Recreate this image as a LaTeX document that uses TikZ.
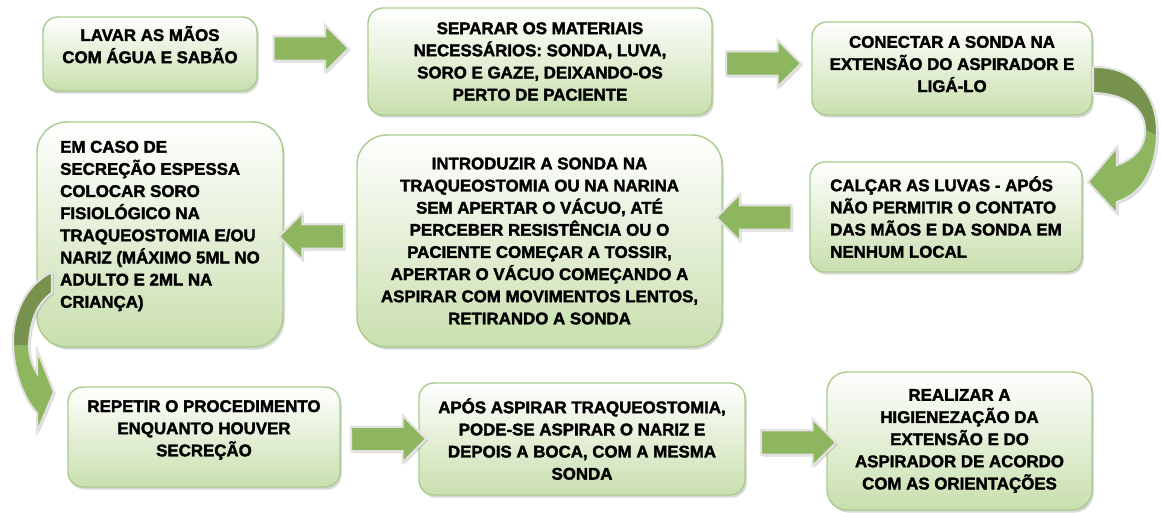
\documentclass[tikz,border=0pt]{standalone}
\usepackage{fontspec}
\setmainfont{Liberation Sans}[BoldFeatures={FakeBold=2}]
\usepackage{xcolor}
\usepackage{tikz}
\usetikzlibrary{calc,shapes.arrows,shadows}
\definecolor{boxline}{HTML}{A9CC8C}
\definecolor{boxbot}{HTML}{C9DFAE}
\definecolor{arrgreen}{HTML}{8DB65F}
\definecolor{arrdark}{HTML}{76924D}
\definecolor{arredge}{HTML}{E2E2E2}
\newcommand{\bendright}{(21.86,-1.34) .. controls (22.70,-1.32) and (23.16,-1.90) .. (23.14,-2.70)
  .. controls (23.12,-3.44) and (22.80,-3.90) .. (22.34,-4.04) -- (22.34,-4.28) -- (21.76,-3.64)
  -- (22.34,-2.94) -- (22.34,-3.30) .. controls (22.70,-3.16) and (22.90,-2.96) .. (22.90,-2.60)
  .. controls (22.90,-2.16) and (22.50,-1.88) .. (21.86,-1.86) -- cycle}
\newcommand{\bendleft}{(1.04,-5.44) .. controls (0.50,-5.70) and (0.24,-6.30) .. (0.26,-6.90)
  .. controls (0.28,-7.50) and (0.50,-8.00) .. (0.74,-8.26) -- (0.74,-8.64) -- (1.08,-7.84)
  -- (0.74,-7.00) -- (0.74,-7.46) .. controls (0.64,-7.30) and (0.58,-7.10) .. (0.58,-6.90)
  .. controls (0.60,-6.40) and (0.76,-6.04) .. (1.04,-5.86) -- cycle}

\begin{document}
\begin{tikzpicture}[
  box/.style={draw=boxline,line width=0.8pt,rounded corners=0.3cm,top color=white,bottom color=boxbot,
    drop shadow={shadow xshift=1pt,shadow yshift=-1.5pt,opacity=0.3},
    align=center,font=\fontsize{9.6}{12.6}\selectfont\bfseries},
  fatarrow/.style={single arrow,draw=arredge,line width=1.2pt,fill=arrgreen,inner xsep=0pt,inner ysep=0.22cm,
    minimum width=0.94cm,single arrow head extend=0.22cm,minimum height=1.5cm,
    drop shadow={shadow xshift=1pt,shadow yshift=-1pt,opacity=0.3}}]
\useasboundingbox (0,0) rectangle (23.22,-10.24);
\node[box,minimum width=4.28cm,minimum height=1.48cm,text depth=0.38cm] (lavar) at (3.00,-1.08)
  {LAVAR AS MÃOS\\COM ÁGUA E SABÃO};
\node[box,minimum width=6.88cm,minimum height=2.14cm] (separar) at (10.80,-1.23)
  {SEPARAR OS MATERIAIS\\NECESSÁRIOS: SONDA, LUVA,\\SORO E GAZE, DEIXANDO-OS\\PERTO DE PACIENTE};
\node[box,minimum width=5.60cm,minimum height=1.86cm,text depth=0.18cm] (conectar) at (19.04,-1.37)
  {CONECTAR A SONDA NA\\EXTENSÃO DO ASPIRADOR E\\LIGÁ-LO};
\node[box,align=left,minimum width=5.44cm,minimum height=2.20cm] (calcar) at (18.92,-4.34)
  {CALÇAR AS LUVAS - APÓS\\NÃO PERMITIR O CONTATO\\DAS MÃOS E DA SONDA EM\\NENHUM LOCAL};
\node[box,rounded corners=0.6cm,minimum width=7.30cm,minimum height=4.24cm] (introduzir) at (10.79,-4.82)
  {INTRODUZIR A SONDA NA\\TRAQUEOSTOMIA OU NA NARINA\\SEM APERTAR O VÁCUO, ATÉ\\PERCEBER RESISTÊNCIA OU O\\PACIENTE COMEÇAR A TOSSIR,\\APERTAR O VÁCUO COMEÇANDO A\\ASPIRAR COM MOVIMENTOS LENTOS,\\RETIRANDO A SONDA};
\node[box,align=left,rounded corners=0.6cm,minimum width=4.92cm,minimum height=4.50cm,text depth=0.41cm] (soro) at (3.20,-4.69)
  {EM CASO DE\\SECREÇÃO ESPESSA\\COLOCAR SORO\\FISIOLÓGICO NA\\TRAQUEOSTOMIA E/OU\\NARIZ (MÁXIMO 5ML NO\\ADULTO E 2ML NA\\CRIANÇA)};
\node[box,minimum width=5.44cm,minimum height=2.00cm,text depth=0.35cm] (repetir) at (4.08,-8.74)
  {REPETIR O PROCEDIMENTO\\ENQUANTO HOUVER\\SECREÇÃO};
\node[box,minimum width=6.52cm,minimum height=2.24cm] (nariz) at (11.64,-8.78)
  {APÓS ASPIRAR TRAQUEOSTOMIA,\\PODE-SE ASPIRAR O NARIZ E\\DEPOIS A BOCA, COM A MESMA\\SONDA};
\node[box,rounded corners=0.4cm,minimum width=5.30cm,minimum height=2.76cm] (higiene) at (19.19,-8.82)
  {REALIZAR A\\HIGIENEZAÇÃO DA\\EXTENSÃO E DO\\ASPIRADOR DE ACORDO\\COM AS ORIENTAÇÕES};
\node[fatarrow] (a1) at (6.10,-0.97) {};
\node[fatarrow] (a2) at (15.15,-1.27) {};
\node[fatarrow,shape border rotate=180] (a3) at (15.20,-4.35) {};
\node[fatarrow,shape border rotate=180,minimum height=1.3cm] (a4) at (6.35,-4.73) {};
\node[fatarrow] (a5) at (7.65,-8.78) {};
\node[fatarrow] (a6) at (15.85,-8.85) {};
% curved arrows
\fill[arrgreen,drop shadow={shadow xshift=1pt,shadow yshift=-1pt,opacity=0.3}] \bendright;
\fill[arrdark] (21.86,-1.34) .. controls (22.70,-1.32) and (23.16,-1.90) .. (23.14,-2.70)
  -- (22.90,-2.60) .. controls (22.90,-2.16) and (22.50,-1.88) .. (21.86,-1.86) -- cycle;
\draw[arredge,line width=1.2pt] \bendright;
\fill[arrgreen,drop shadow={shadow xshift=1pt,shadow yshift=-1pt,opacity=0.3}] \bendleft;
\fill[arrdark] (1.04,-5.44) .. controls (0.50,-5.70) and (0.24,-6.30) .. (0.26,-6.90)
  -- (0.58,-6.90) .. controls (0.60,-6.40) and (0.76,-6.04) .. (1.04,-5.86) -- cycle;
\draw[arredge,line width=1.2pt] \bendleft;
\end{tikzpicture}
\end{document}
